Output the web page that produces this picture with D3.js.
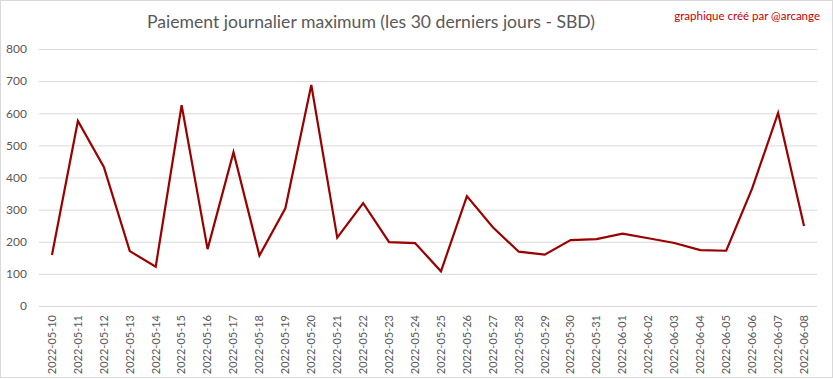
<!DOCTYPE html>
<html><head><meta charset="utf-8">
<script src="https://cdn.jsdelivr.net/npm/d3@7"></script>
<style>body{margin:0;background:#fff}svg{display:block}</style>
</head><body>
<svg id="c" width="833" height="379"></svg>
<script>
const dates = ["2022-05-10","2022-05-11","2022-05-12","2022-05-13","2022-05-14","2022-05-15","2022-05-16","2022-05-17","2022-05-18","2022-05-19","2022-05-20","2022-05-21","2022-05-22","2022-05-23","2022-05-24","2022-05-25","2022-05-26","2022-05-27","2022-05-28","2022-05-29","2022-05-30","2022-05-31","2022-06-01","2022-06-02","2022-06-03","2022-06-04","2022-06-05","2022-06-06","2022-06-07","2022-06-08"];
const values = [159,576,433,171,122,625,177,479,157,304,688,213,320,199,196,108,342,245,169,160,205,208,225,211,196,174,172,366,601,249];
const yTicks = [0,100,200,300,400,500,600,700,800];
const title = "Paiement journalier maximum (les 30 derniers jours - SBD)";
const credit = "graphique créé par @arcange";

const svg = d3.select("#c");
const W = 833, H = 379;
const m = {left: 39, right: 16, top: 49, bottom: 73};
const x = d3.scaleBand().domain(dates).range([m.left, W - m.right]);
const y = d3.scaleLinear().domain([0, 800]).range([H - m.bottom, m.top]);

svg.append("rect").attr("x",0.5).attr("y",0.5).attr("width",W-1).attr("height",H-2)
  .attr("fill","#fff").attr("stroke","#d9d9d9");

const font = "Lato, 'Open Sans', sans-serif";

// gridlines
const yAxis = d3.axisLeft(y).tickValues(yTicks).tickSize(-(W - m.left - m.right)).tickPadding(12);
const gy = svg.append("g").attr("transform", `translate(${m.left},0)`).call(yAxis);
gy.select(".domain").remove();
gy.selectAll(".tick line").attr("stroke","#d9d9d9").attr("stroke-width",1);
gy.selectAll(".tick text").attr("fill","#595959").attr("font-family",font).attr("font-size",12);

// x axis
const xAxis = d3.axisBottom(x).tickSize(0).tickPadding(0);
const gx = svg.append("g").attr("transform", `translate(0,${H - m.bottom})`).call(xAxis);
gx.select(".domain").remove();
gx.selectAll(".tick text")
  .attr("fill","#595959").attr("font-family",font).attr("font-size",11)
  .attr("text-anchor","end")
  .attr("transform","rotate(-90)")
  .attr("x",-9).attr("y",0).attr("dy","0.35em");

// line
const line = d3.line().x((d,i) => x(dates[i]) + x.bandwidth()/2).y(d => y(d));
svg.append("path").datum(values).attr("d", line)
  .attr("fill","none").attr("stroke","#990000").attr("stroke-width",2.2)
  .attr("stroke-linejoin","miter");

// title
svg.append("text").attr("x",371).attr("y",28).attr("text-anchor","middle")
  .attr("font-family",font).attr("font-size",17.6).attr("fill","#595959").text(title);
svg.append("text").attr("x",820).attr("y",20).attr("text-anchor","end")
  .attr("font-family",font).attr("font-size",11.5).attr("fill","#c00000").text(credit);
</script>
</body></html>
